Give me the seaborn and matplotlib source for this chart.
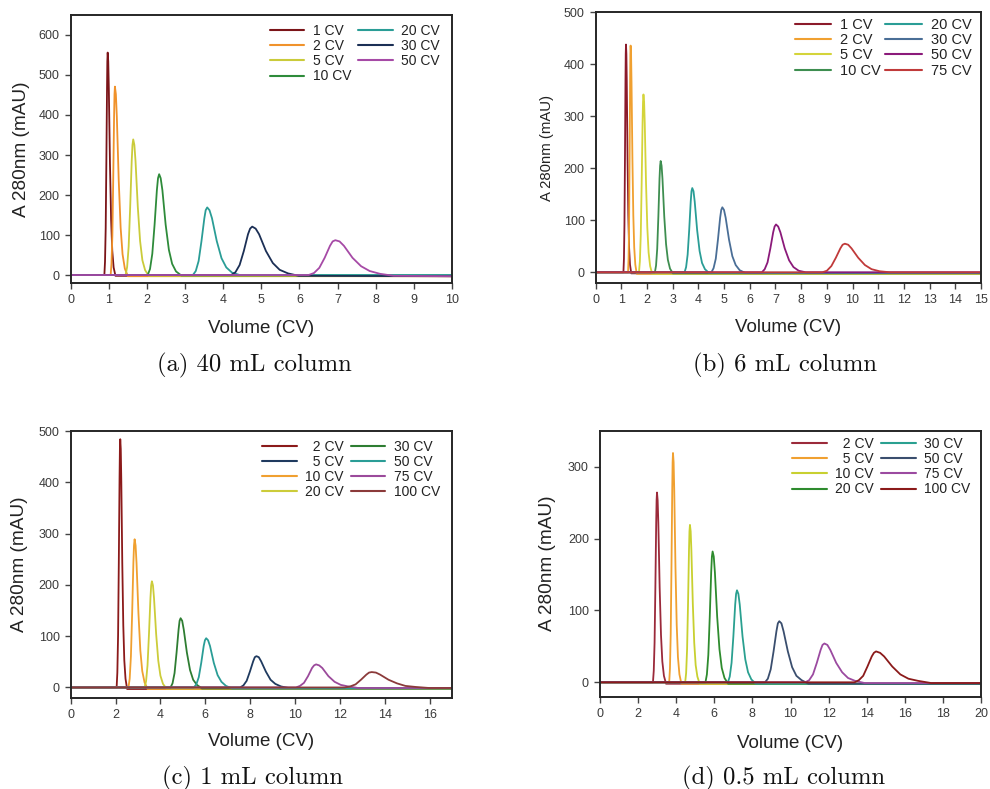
import numpy as np
import pandas as pd
import matplotlib
matplotlib.use("Agg")
import matplotlib.pyplot as plt
from matplotlib.lines import Line2D
import seaborn as sns

# ---------------- data ----------------
# (a) 40 mL column
A_LABELS = ['1 CV', '2 CV', '5 CV', '10 CV', '20 CV', '30 CV', '50 CV']
A_COLORS = ['#7b1418', '#f0922b', '#cacb3a', '#2e8b3a', '#2a9d96', '#1b2f55', '#a64aa6']
A_X = [
    [0, 0.883, 0.90, 0.918, 0.935, 0.953, 0.961, 0.97, 0.985, 1.0, 1.03, 1.06, 1.09, 1.126, 1.174, 10],
    [0, 1.048, 1.07, 1.093, 1.115, 1.138, 1.149, 1.16, 1.185, 1.21, 1.26, 1.31, 1.36, 1.42, 1.50, 10],
    [0, 1.44, 1.48, 1.52, 1.56, 1.60, 1.62, 1.64, 1.67, 1.70, 1.76, 1.82, 1.88, 1.952, 2.048, 10],
    [0, 2.02, 2.08, 2.14, 2.20, 2.26, 2.29, 2.32, 2.36, 2.405, 2.49, 2.575, 2.66, 2.762, 2.898, 10],
    [0, 3.205, 3.28, 3.355, 3.43, 3.505, 3.54, 3.58, 3.64, 3.705, 3.83, 3.955, 4.08, 4.23, 4.43, 10],
    [0, 4.21, 4.32, 4.43, 4.54, 4.65, 4.705, 4.76, 4.85, 4.94, 5.12, 5.30, 5.48, 5.70, 5.98, 10],
    [0, 6.24, 6.38, 6.52, 6.66, 6.80, 6.87, 6.94, 7.05, 7.165, 7.39, 7.615, 7.84, 8.11, 8.47, 10],
]
A_Y = [
    [0, 0, 33, 117, 278, 467, 534, 556, 534, 467, 278, 139, 61, 19, -2, -3],
    [0, 0, 28, 99, 236, 396, 452, 471, 452, 396, 236, 118, 52, 16, -3, -3],
    [0, 0, 20, 71, 170, 285, 325, 339, 325, 285, 170, 85, 37, 12, -2, -2],
    [0, 0, 15, 53, 126, 212, 242, 252, 242, 212, 126, 63, 28, 9, -1, -1],
    [0, 0, 10, 35, 85, 142, 162, 169, 162, 142, 85, 42, 19, 6, 0, 0],
    [0, 0, 7, 25, 60, 102, 116, 121, 116, 102, 60, 30, 13, 4, -2, -3],
    [0, 0, 5, 18, 43, 73, 84, 87, 84, 73, 43, 22, 10, 3, -2, -3],
]

# (b) 6 mL column
B_LABELS = ['1 CV', '2 CV', '5 CV', '10 CV', '20 CV', '30 CV', '50 CV', '75 CV']
B_COLORS = ['#8b1a2a', '#f0a030', '#d4d43a', '#3e8e50', '#2a9d96', '#4a6e96', '#8b1a7a', '#c03a3a']
B_X = [
    [0, 1.08, 1.10, 1.12, 1.14, 1.16, 1.17, 1.18, 1.195, 1.21, 1.24, 1.27, 1.30, 1.336, 1.384, 15],
    [0, 1.26, 1.28, 1.30, 1.32, 1.34, 1.35, 1.36, 1.378, 1.395, 1.43, 1.465, 1.50, 1.542, 1.598, 15],
    [0, 1.685, 1.72, 1.755, 1.79, 1.825, 1.843, 1.86, 1.885, 1.91, 1.96, 2.01, 2.06, 2.12, 2.20, 15],
    [0, 2.305, 2.35, 2.395, 2.44, 2.485, 2.508, 2.53, 2.565, 2.60, 2.67, 2.74, 2.81, 2.894, 3.006, 15],
    [0, 3.46, 3.52, 3.58, 3.64, 3.70, 3.73, 3.76, 3.808, 3.855, 3.95, 4.045, 4.14, 4.254, 4.406, 15],
    [0, 4.505, 4.59, 4.675, 4.76, 4.845, 4.888, 4.93, 4.995, 5.06, 5.19, 5.32, 5.45, 5.606, 5.814, 15],
    [0, 6.47, 6.58, 6.69, 6.80, 6.91, 6.965, 7.02, 7.105, 7.19, 7.36, 7.53, 7.70, 7.904, 8.176, 15],
    [0, 8.825, 9.0, 9.175, 9.35, 9.525, 9.613, 9.70, 9.83, 9.96, 10.22, 10.48, 10.74, 11.052, 11.468, 15],
]
B_Y = [
    [0, 0, 26, 92, 219, 368, 420, 438, 420, 368, 219, 110, 48, 15, -2, -2],
    [0, 0, 26, 92, 218, 366, 419, 436, 419, 366, 218, 109, 48, 15, -3, -3],
    [0, 0, 21, 72, 171, 287, 328, 342, 328, 287, 171, 86, 38, 12, -3, -3],
    [0, 0, 13, 45, 107, 180, 205, 214, 205, 180, 107, 54, 24, 7, -2, -2],
    [0, 0, 10, 34, 81, 136, 156, 162, 156, 136, 81, 41, 18, 6, -1, -1],
    [0, 0, 8, 26, 63, 105, 120, 125, 120, 105, 63, 31, 14, 4, -1, -1],
    [0, 0, 6, 19, 46, 77, 88, 92, 88, 77, 46, 23, 10, 3, 0, 0],
    [0, 0, 3, 12, 28, 46, 53, 55, 53, 46, 28, 14, 6, 2, 0, 0],
]

# (c) 1 mL column
C_LABELS = ['2 CV', '5 CV', '10 CV', '20 CV', '30 CV', '50 CV', '75 CV', '100 CV']
C_COLORS = ['#8b1a1a', '#1f3a5f', '#f0a030', '#cccc3a', '#2e7d32', '#2a9d96', '#9b4a9b', '#8b3a3a']
C_X = [
    [0, 2.048, 2.08, 2.113, 2.145, 2.178, 2.194, 2.21, 2.233, 2.255, 2.30, 2.345, 2.39, 2.444, 2.516, 17],
    [0, 7.555, 7.70, 7.845, 7.99, 8.135, 8.208, 8.28, 8.385, 8.49, 8.70, 8.91, 9.12, 9.372, 9.708, 17],
    [0, 2.575, 2.63, 2.685, 2.74, 2.795, 2.823, 2.85, 2.893, 2.935, 3.02, 3.105, 3.19, 3.292, 3.428, 17],
    [0, 3.295, 3.36, 3.425, 3.49, 3.555, 3.588, 3.62, 3.668, 3.715, 3.81, 3.905, 4.0, 4.114, 4.266, 17],
    [0, 4.45, 4.54, 4.63, 4.72, 4.81, 4.855, 4.90, 4.97, 5.04, 5.18, 5.32, 5.46, 5.628, 5.852, 17],
    [0, 5.49, 5.60, 5.71, 5.82, 5.93, 5.985, 6.04, 6.125, 6.21, 6.38, 6.55, 6.72, 6.924, 7.196, 17],
    [0, 10.04, 10.22, 10.40, 10.58, 10.76, 10.85, 10.94, 11.078, 11.215, 11.49, 11.765, 12.04, 12.37, 12.81, 17],
    [0, 12.22, 12.46, 12.70, 12.94, 13.18, 13.30, 13.42, 13.608, 13.795, 14.17, 14.545, 14.92, 15.37, 15.97, 17],
]
C_Y = [
    [0, 0, 29, 102, 242, 407, 465, 484, 465, 407, 242, 121, 53, 17, -3, -3],
    [0, 0, 4, 13, 31, 51, 59, 61, 59, 51, 31, 15, 7, 2, -1, -2],
    [0, 0, 17, 61, 145, 243, 277, 289, 277, 243, 145, 72, 32, 10, -3, -3],
    [0, 0, 12, 43, 104, 174, 199, 207, 199, 174, 104, 52, 23, 7, -2, -2],
    [0, 0, 8, 28, 68, 113, 130, 135, 130, 113, 68, 34, 15, 5, -2, -2],
    [0, 0, 6, 20, 48, 81, 92, 96, 92, 81, 48, 24, 11, 3, -2, -2],
    [0, 0, 3, 9, 22, 38, 43, 45, 43, 38, 22, 11, 5, 2, -1, -1],
    [0, 0, 2, 6, 15, 25, 29, 30, 29, 25, 15, 8, 3, 1, -1, -1],
]

# (d) 0.5 mL column
D_LABELS = ['2 CV', '5 CV', '10 CV', '20 CV', '30 CV', '50 CV', '75 CV', '100 CV']
D_COLORS = ['#9b2a3a', '#f0a030', '#c8d030', '#2e8b2e', '#2aa090', '#3a4e6e', '#9b4aa0', '#8b1a1a']
D_X = [
    [0, 2.778, 2.82, 2.863, 2.905, 2.948, 2.969, 2.99, 3.025, 3.06, 3.13, 3.20, 3.27, 3.354, 3.466, 20],
    [0, 3.63, 3.67, 3.71, 3.75, 3.79, 3.81, 3.83, 3.863, 3.895, 3.96, 4.025, 4.09, 4.168, 4.272, 20],
    [0, 4.47, 4.52, 4.57, 4.62, 4.67, 4.695, 4.72, 4.758, 4.795, 4.87, 4.945, 5.02, 5.11, 5.23, 20],
    [0, 5.535, 5.61, 5.685, 5.76, 5.835, 5.873, 5.91, 5.97, 6.03, 6.15, 6.27, 6.39, 6.534, 6.726, 20],
    [0, 6.715, 6.81, 6.905, 7.0, 7.095, 7.143, 7.19, 7.263, 7.335, 7.48, 7.625, 7.77, 7.944, 8.176, 20],
    [0, 8.66, 8.81, 8.96, 9.11, 9.26, 9.335, 9.41, 9.523, 9.635, 9.86, 10.085, 10.31, 10.58, 10.94, 20],
    [0, 10.78, 10.98, 11.18, 11.38, 11.58, 11.68, 11.78, 11.935, 12.09, 12.40, 12.71, 13.02, 13.392, 13.888, 20],
    [0, 13.365, 13.59, 13.815, 14.04, 14.265, 14.378, 14.49, 14.703, 14.915, 15.34, 15.765, 16.19, 16.70, 17.38, 20],
]
D_Y = [
    [0, 0, 16, 55, 132, 222, 253, 264, 253, 222, 132, 66, 29, 9, -2, -2],
    [0, 0, 19, 67, 160, 268, 306, 319, 306, 268, 160, 80, 35, 11, -2, -2],
    [0, 0, 13, 46, 110, 184, 210, 219, 210, 184, 110, 55, 24, 8, -2, -2],
    [0, 0, 11, 38, 91, 153, 175, 182, 175, 153, 91, 46, 20, 6, -2, -2],
    [0, 0, 8, 27, 64, 108, 123, 128, 123, 108, 64, 32, 14, 4, -2, -2],
    [0, 0, 5, 18, 43, 71, 82, 85, 82, 71, 43, 21, 9, 3, -2, -2],
    [0, 0, 3, 11, 27, 45, 52, 54, 52, 45, 27, 14, 6, 2, -1, -1],
    [0, 0, 3, 9, 22, 36, 41, 43, 41, 36, 22, 11, 5, 2, -1, -1],
]

CAPTIONS = ['(a) 40 mL column', '(b) 6 mL column', '(c) 1 mL column', '(d) 0.5 mL column']
X_LIMITS = [10, 15, 17, 20]
X_STEPS = [1, 1, 2, 2]
Y_TOPS = [650, 500, 500, 350]
Y_TICK_MAX = [600, 500, 500, 300]

# ---------------- style ----------------
sns.set_style('ticks')
plt.rcParams['font.family'] = ['Liberation Sans', 'DejaVu Sans']

fig = plt.figure(figsize=(9.9, 7.89), dpi=100)

# axes rectangles in figure fraction: left, bottom, width, height
RECTS = [
    (0.0714, 0.6413, 0.3852, 0.3397),
    (0.6017, 0.6417, 0.3892, 0.3427),
    (0.0714, 0.1157, 0.3852, 0.3380),
    (0.6061, 0.1170, 0.3848, 0.3371),
]
YLAB_X = [-0.1285, -0.127, -0.133, -0.138]
YLAB_SIZE = [13.7, 10.7, 13.7, 13.7]
XLAB_Y = [-0.168, -0.1675, -0.165, -0.175]
LEG_ANCHOR = [(0.983, 0.987), (0.99, 1.0), (0.983, 0.989), (0.987, 0.997)]
LEG_SIZE = [10, 10.5, 10, 10]
LEG_COLSP = [0.5, 0.3, 0.5, 0.5]
LEG_PAD_LEFT = [False, False, True, True]
CAP_POS = [(254, 365), (785, 365), (253, 778), (784, 778)]

panels = [
    (A_LABELS, A_COLORS, A_X, A_Y),
    (B_LABELS, B_COLORS, B_X, B_Y),
    (C_LABELS, C_COLORS, C_X, C_Y),
    (D_LABELS, D_COLORS, D_X, D_Y),
]

for i, (labels, colors, xs, ys) in enumerate(panels):
    ax = fig.add_axes(RECTS[i])
    rows = []
    for lab, xv, yv in zip(labels, xs, ys):
        for xx, yy in zip(xv, yv):
            rows.append((lab, xx, yy))
    df = pd.DataFrame(rows, columns=['series', 'x', 'y'])
    pal = dict(zip(labels, colors))
    sns.lineplot(data=df, x='x', y='y', hue='series', hue_order=labels,
                 palette=pal, sort=False, estimator=None, legend=False,
                 linewidth=1.3, ax=ax)

    ax.set_xlim(0, X_LIMITS[i])
    ax.set_ylim(-20, Y_TOPS[i])
    ax.set_xticks(np.arange(0, X_LIMITS[i] + 0.01, X_STEPS[i]))
    ax.set_yticks(np.arange(0, Y_TICK_MAX[i] + 1, 100))
    ax.tick_params(axis='both', direction='out', length=4, width=1.0,
                   color='#444444', labelsize=9, labelcolor='#3a3a3a', pad=4)
    for sp in ax.spines.values():
        sp.set_visible(True)
        sp.set_color('#262626')
        sp.set_linewidth(1.4)

    ax.set_xlabel('Volume (CV)', fontsize=13.5, color='#222222')
    ax.set_ylabel('A 280nm (mAU)', fontsize=YLAB_SIZE[i], color='#222222')
    ax.xaxis.set_label_coords(0.5, XLAB_Y[i])
    ax.xaxis.label.set_va('center')
    ax.yaxis.set_label_coords(YLAB_X[i], 0.5)
    ax.yaxis.label.set_va('center')

    handles = [Line2D([0], [0], color=c, lw=1.5) for c in colors]
    leg_labels = list(labels)
    if LEG_PAD_LEFT[i]:
        leg_labels = [('\u2007' + l if len(l.split()[0]) == 1 else l) for l in leg_labels]
    leg = ax.legend(handles, leg_labels, ncol=2, loc='upper right',
                    bbox_to_anchor=LEG_ANCHOR[i], frameon=False,
                    fontsize=LEG_SIZE[i], handlelength=2.5, handletextpad=0.6,
                    labelspacing=0.08, columnspacing=LEG_COLSP[i],
                    borderaxespad=0.0, borderpad=0.4)
    for t in leg.get_texts():
        t.set_color('#222222')

    cx, cy = CAP_POS[i]
    fig.text(cx / 990, 1 - cy / 789, CAPTIONS[i], family='cmr10', fontsize=17.8,
             ha='center', va='center', color='#111111')

fig.savefig('out.png', dpi=100)
